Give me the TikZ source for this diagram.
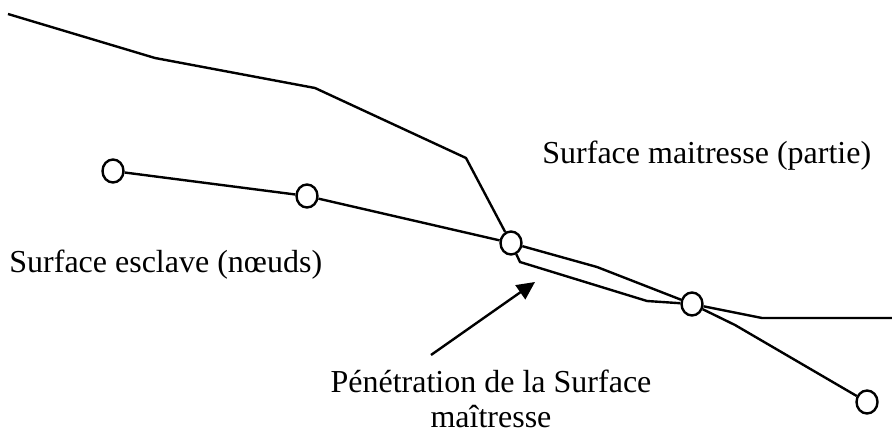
\documentclass[tikz,border=0pt]{standalone}
\usepackage{fontspec}
\setmainfont{Liberation Serif}
\usetikzlibrary{shapes.geometric,arrows.meta}
\begin{document}
\begin{tikzpicture}[x=0.5pt,y=-0.5pt,
  surf/.style={line width=1.2pt,line join=miter},
  nodept/.style={ellipse,draw,line width=1.2pt,fill=white,minimum width=10.5pt,minimum height=11.5pt,inner sep=0pt},
  lbl/.style={inner sep=0pt,font=\fontsize{16}{16}\selectfont},
  pointer/.style={line width=1.2pt,-{Triangle[length=9pt,width=8.5pt]}}]
\useasboundingbox (0,0) rectangle (892,433);
% slave nodes
\node[nodept] (n1) at (113,171) {};
\node[nodept] (n2) at (307,196) {};
\node[nodept] (n3) at (511,243) {};
\node[nodept] (n4) at (692,304) {};
\node[nodept] (n5) at (867,402) {};
% master surface points
\coordinate (m0) at (8,14);
\coordinate (m1) at (155,58);
\coordinate (m2) at (315,88);
\coordinate (m3) at (466,158);
\coordinate (m4) at (520,262);
\coordinate (m5) at (647,301);
\coordinate (m6) at (762,318);
\coordinate (m7) at (892,318);
% slave bends
\coordinate (s1) at (597,267);
\coordinate (s2) at (735,325);
% arrow ends
\coordinate (a0) at (431,355);
\coordinate (a1) at (535,282);
% master surface
\draw[surf] (m0) -- (m1) -- (m2) -- (m3) -- (n3) -- (m4) -- (m5) -- (n4) -- (m6) -- (m7);
% slave surface
\draw[surf] (n1) -- (n2) -- (n3) -- (s1) -- (n4) -- (s2) -- (n5);
% arrow
\draw[pointer] (a0) -- (a1);
% labels
\node[lbl,anchor=base west] (t1) at (542,163) {Surface maitresse (partie)};
\node[lbl,anchor=base west] (t2) at (9,272) {Surface esclave (nœuds)};
\node[lbl,anchor=base] (t3) at (491,392) {\begin{tabular}[t]{@{}c@{}}Pénétration de la Surface\\[1.5pt] maîtresse\end{tabular}};
\end{tikzpicture}
\end{document}
